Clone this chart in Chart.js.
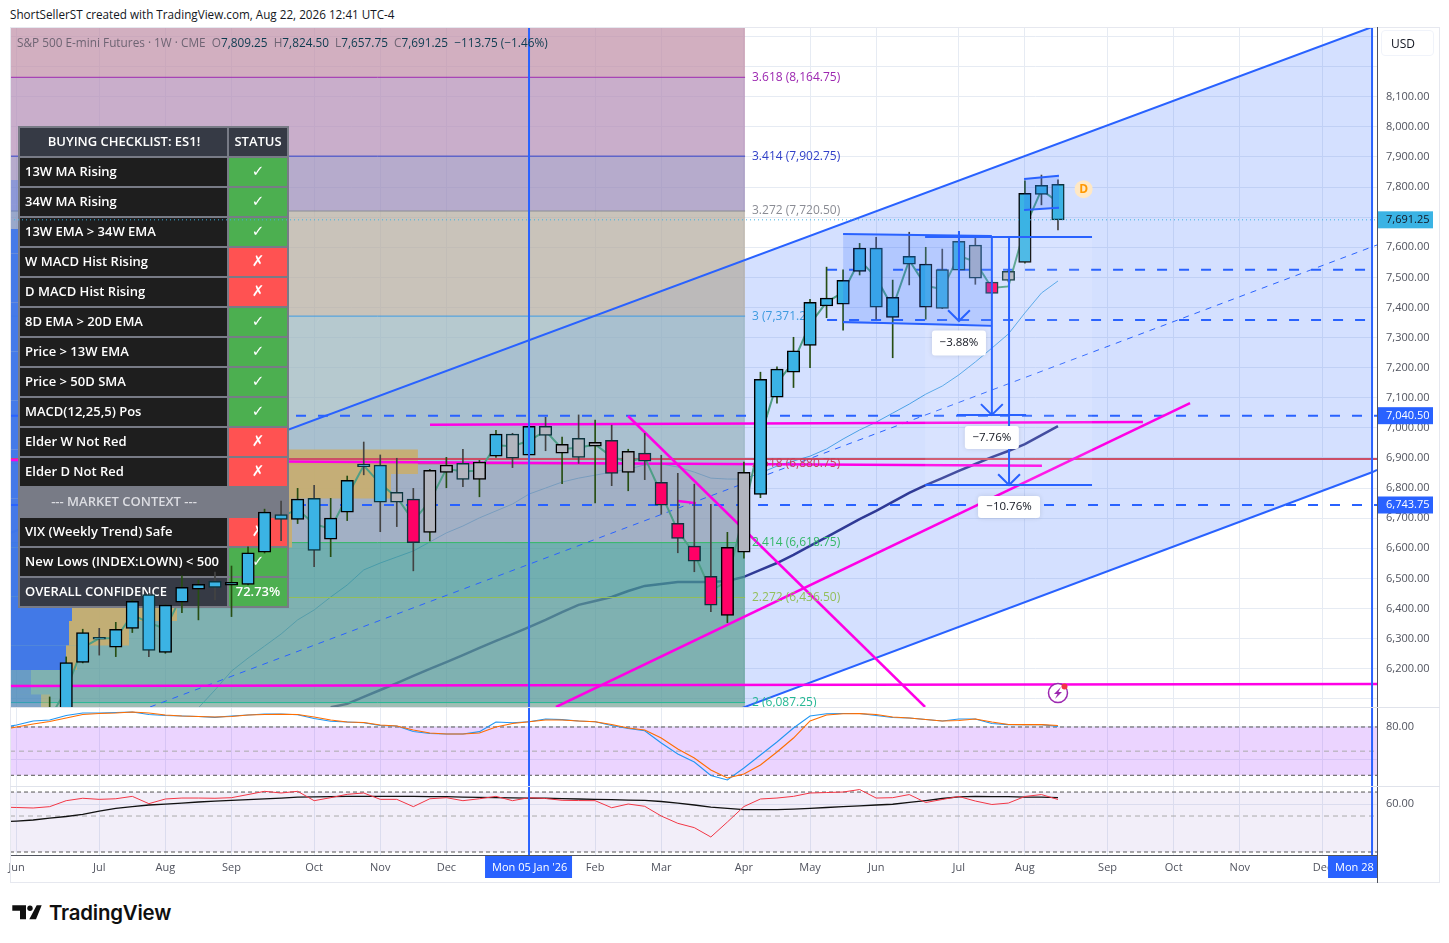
<!DOCTYPE html>
<html>
<head>
<meta charset="utf-8">
<title>ES1! weekly</title>
<script src="https://cdn.jsdelivr.net/npm/chart.js"></script>
<style>
  html, body { margin: 0; padding: 0; background: #fff; overflow: hidden; width: 1449px; height: 943px; font-family: "Open Sans", sans-serif; }
  canvas { position: absolute; left: 0; }
  .abs { position: absolute; white-space: nowrap; }
  #credit { left: 10px; top: 6px; font-size: 11.7px; color: #131722; }
  #legend { left: 17px; top: 34px; font-size: 11.8px; color: rgba(70,70,85,.72); z-index: 5; }
  #legend b { font-weight: 400; color: #0c3b4f; }
  #frame { left: 10px; top: 27px; width: 1430px; height: 856px; border: 1px solid #e6e8ef; box-sizing: border-box; }
  #axisLine { left: 1377px; top: 27px; width: 1px; height: 856px; background: #50535e; z-index: 4; }
  .sep { left: 10px; width: 1430px; height: 1px; background: #e0e3eb; z-index: 4; }
  #usd { left: 1381px; top: 30px; width: 53px; height: 26px; border: 1px solid #f0f3fa; border-radius: 4px; font-size: 12px; color: #131722; line-height: 26px; padding-left: 9px; box-sizing: border-box; z-index: 5; }
  #brand { left: 49px; top: 899px; font-family: Inter, sans-serif; font-weight: 600; font-size: 20.4px; line-height: 28px; color: #0f0f0f; letter-spacing: -0.2px; }
  #logo { left: 0; top: 890px; }
</style>
</head>
<body>
<div class="abs" id="credit">ShortSellerST created with TradingView.com, Aug 22, 2026 12:41 UTC-4</div>
<canvas id="pricePane" width="1449" height="708" style="top:0"></canvas>
<canvas id="stochPane" width="1449" height="80" style="top:707px"></canvas>
<canvas id="rsiPane" width="1449" height="100" style="top:786px"></canvas>
<div class="abs" id="frame"></div>
<div class="abs" id="axisLine"></div>
<div class="abs sep" style="top:707px"></div>
<div class="abs sep" style="top:786px"></div>
<div class="abs" id="usd">USD</div>
<div class="abs" id="legend">S&amp;P 500 E-mini Futures · 1W · CME &nbsp;O<b>7,809.25</b> &nbsp;H<b>7,824.50</b> &nbsp;L<b>7,657.75</b> &nbsp;C<b>7,691.25</b> &nbsp;<b>−113.75 (−1.46%)</b></div>
<svg class="abs" id="logo" width="48" height="40" viewBox="0 890 48 40">
  <path d="M12.3 905.3H26V919.3H20V910.7H12.3Z M36.7 905.3H41.7L36 919.3H29.3Z" fill="#0f0f0f"/>
  <circle cx="30" cy="908.3" r="2.7" fill="#0f0f0f"/>
</svg>
<div class="abs" id="brand">TradingView</div>

<script>
// Week numbers count from Mon 05 Jan '26 = 0
const X_MIN = -31.4, X_MAX = 51.3;
const FIRST_CANDLE = -29, FIRST_OSC = -32, FIRST_MA13 = -20, FIRST_MA34 = -12;
const FIB_END = 13.07;

const highs = [
  6106,6239,6331,6334,6354,6428,6450,6412,6508,6494,
  6521,6541,6605,6730,6757,6799,6809,6766,6840,6953,
  6910,6899,6799,6862,6902,6929,6892,6992,6982,7016,
  7035,6969,7043,7026,7009,6929,6982,6909,6849,6813,
  6746,6653,6886,7185,7203,7301,7427,7534,7525,7613,
  7633,7491,7650,7600,7594,7648,7633,7491,7525,7821,
  7840,7824.5];
const lows = [
  6000,6020,6219,6245,6240,6320,6240,6251,6386,6362,
  6428,6373,6478,6584,6625,6682,6539,6572,6692,6844,
  6655,6672,6525,6624,6801,6805,6771,6902,6868,6900,
  6924,6815,6882,6751,6808,6791,6828,6713,6585,6522,
  6389,6353,6567,6768,7082,7134,7200,7366,7325,7508,
  7361,7233,7475,7361,7396,7523,7477,7445,7485,7547,
  7741,7657.75];
const opens = [
  6010,6040,6221,6304,6271,6334,6446,6254,6421,6464,
  6490,6477,6480,6587,6712,6696,6766,6630,6720,6880,
  6876,6786,6763,6653,6852,6882,6829,6906,6979,6909,
  7005,6916,6965,6939,6959,6852,6916,6819,6683,6607,
  6507,6377,6587,6779,7102,7185,7274,7405,7411,7520,
  7597,7367,7570,7401,7526,7620,7607,7484,7520,7550,
  7806,7809.25];
const closes = [
  6060,6220,6320,6298,6331,6424,6261,6411,6470,6480,
  6470,6487,6585,6720,6696,6763,6593,6700,6826,6871,
  6753,6753,6619,6859,6876,6829,6886,6979,6899,7005,
  6975,6945,6902,6952,6849,6922,6889,6743,6633,6557,
  6411,6603,6852,7161,7195,7256,7417,7431,7490,7597,
  7401,7434,7544,7544,7397,7524,7497,7447,7490,7779,
  7776,7691.25];
// Elder impulse state of each bar: B bullish, G neutral, R bearish
const impulse = "BBBBBBBBBB BBBBBBBBBB BGRGGGGBGB GGGGRGRRRR RRGBBBBBBB BBBBBBGRGB BB".replace(/ /g, "");
const midLine = [
  6035,6130,6270,6301,6301,6379,6353,6332,6445,6472,
  6480,6482,6532,6653,6704,6730,6680,6665,6773,6875,
  6814,6770,6691,6756,6864,6855,6858,6942,6939,6957,
  6990,6930,6934,6945,6904,6887,6902,6781,6658,6582,
  6459,6490,6720,6970,7148,7220,7345,7418,7450,7558,
  7499,7400,7557,7472,7461,7572,7552,7465,7470,7665,
  7791,7750];
const ma13 = [
  6070,6129,6192,6235,6275,6315,6362,6395,6438,6478,
  6528,6551,6571,6591,6621,6651,6674,6701,6724,6747,
  6780,6800,6820,6833,6843,6853,6863,6877,6880,6870,
  6853,6833,6830,6830,6850,6873,6890,6906,6930,6963,
  6993,7019,7049,7079,7112,7139,7176,7219,7265,7312,
  7382,7448,7488];
const ma34 = [
  6072,6083,6106,6129,6152,6176,6199,6222,6245,6269,6292,6315,
  6338,6362,6388,6412,6425,6438,6458,6475,6481,6488,
  6488,6488,6491,6505,6528,6551,6578,6608,6637,6667,
  6697,6724,6754,6784,6810,6833,6857,6880,6903,6923,
  6946,6976,7006];

const stochK = [
  79,82.5,87.5,88.7,94.3,97.4,97.4,98,98.6,95.5,
  94.3,93.7,93,92,93.7,94.9,96.1,96.1,95.3,90.6,
  87.1,86.2,85.3,81.9,81.2,74.4,71.9,71.3,71.3,74.2,
  86.2,85.3,86.6,89.9,89.1,87.5,86.6,81.9,78.1,75.4,
  60.1,46.5,36.5,19.8,14.2,29.1,45.2,61.4,78.8,93.7,
  96.5,96.8,96.8,94.3,91.8,91.2,89.3,87.5,89.9,89.9,
  84.3,82.9,82.9,82.9,80.6];
const stochD = [
  76,80,83.7,86.8,91.2,95.5,96.8,97.4,98.6,97.4,
  94.9,93.7,93,92.4,93,94.9,95.5,95.9,95.5,92.4,
  88.7,86.2,85.6,82.5,81.2,76.3,72.5,71.3,71.3,72.5,
  80,84.3,86.6,88.7,88.7,87.5,86.6,83.1,78.8,76.3,
  66.3,52.7,41.5,26.6,16.7,21.6,32.8,49,66.3,87.5,
  94.9,96.4,96.6,95.5,92.4,91.2,89.3,87.5,88.1,89.9,
  86.2,83.1,82.9,82.9,81.9];
const rsi = [
  57.5,57.1,56.7,57.8,62.8,64.8,63.9,64.4,66.4,60.3,
  64.2,65,65,64.8,65.3,67.9,70.6,69.2,70.6,62.8,
  65.3,68.1,69.2,63.9,63.9,57.8,64.4,65.3,62.8,64.4,
  66.4,62.8,65.3,64.6,63.1,62.9,62.8,56.9,60,58.1,
  50,43.9,40.3,32.5,45,57.9,64.2,65,66.4,69.2,
  69.6,70,72.1,65,65.3,67.9,61.3,63.8,66.3,62.5,
  59.6,60.8,66.3,67.9,63.8];
const rsiAvg = [
  45,45.8,46.7,48.3,49.6,51.3,54,56.3,57.9,59.2,
  60,60.8,61.7,62.5,63,63.7,64.3,65,65.8,66,
  66.2,66.3,66.4,66.4,66.3,66.3,66.2,66.1,65.8,65.6,
  65.3,65.2,65,64.8,64.5,64.2,63.9,63.7,63.3,63.1,
  62.1,60.8,59.2,57.5,56.3,55.4,55.3,55.3,55.7,56.4,
  57.1,57.8,58.5,59.2,59.8,61.3,62.9,64.6,66,66.3,
  66.2,66.1,65.8,65.7,65.3];

const priceTicks = [6100,6200,6300,6400,6500,6600,6700,6800,6900,7000,7100,7200,7300,7400,7500,7600,7700,7800,7900,8000,8100,8200,8300];
const monthWeeks = [-31,-26,-22,-18,-13,-9,-5,0,4,8,13,17,21,26,30,35,39,43,48];
const monthLabels = ["Jun","Jul","Aug","Sep","Oct","Nov","Dec","Jan","Feb","Mar","Apr","May","Jun","Jul","Aug","Sep","Oct","Nov","Dec"];

// Fibonacci extension levels and their bands
const fibRatios = ["3.618","3.414","3.272","3","2.618","2.414","2.272","2"];
const fibPrices = [8164.75,7902.75,7720.5,7371.25,6880.75,6618.75,6436.5,6087.25];
const fibColors = ["#9c27b0","#3140c8","#8a8c94","#3d9ae0","#c8405a","#34b868","#93bf5a","#26b894"];
const fibBandColors = ["rgba(191,141,165,.7)","rgba(178,139,181,.7)","rgba(151,136,182,.7)","rgba(178,169,157,.7)","rgba(151,178,186,.7)","rgba(141,155,172,.7)","rgba(72,154,142,.7)","rgba(91,156,144,.7)","rgba(125,165,130,.6)"];

// Visible range volume rows, top to bottom
const vpLevels = [7823.5,7742,7660.7,7579.4,7498,7416.6,7335.2,7253.7,7172.4,7091,7009.5,6928.2,6846.8,6765.4,6684,6602.6,6521.2,6439.8,6358.4,6277,6195.6,6114.2,6032.8];
const vpBlueTo = [-30.5,-30.2,-30.2,-29.9,-30.2,-30.2,-30.2,-29.9,-29.6,-29.3,-29,-29,-28.7,-28.4,-28.4,-28.1,-28.1,-27.65,-27.83,-28.01,-30.13,-29.52];
const vpTanTo = [-30.2,-29.9,-27,-27,-27,-27,-27,-27,-27,-27,-27,-6.72,-8.35,-14.34,-14.34,-15,-17,-21.29,-24.2,-27.34,-30.13,-28.98];

// Hand drawn trend lines, [week, price]
const channelUpper = [[X_MIN,6650.7],[51,8331.9]];
const channelLower = [[X_MIN,5159],[51,6852.4]];
const channelLowerEnd = [[51,6852.4],[X_MAX,6860]];
const channelMid = [[-22.93,6072.6],[X_MAX,7607.6]];
const magentaLines = [
  [[X_MIN,6142.3],[X_MAX,6149]],
  [[-5.99,7010.6],[37.14,7019.5]],
  [[X_MIN,6893.3],[31.03,6874.4]],
  [[1.63,6072.6],[39.99,7082.6]],
  [[5.99,7039.4],[23.96,6072.6]],
  [[9.01,6757],[10.1,6750]]
];
const dashedLevels = [[X_MIN,7040.5],[X_MIN,6743.75],[18.03,7525.5],[18.03,7358.4]];
const redLevel = 6896.6;
const lastPrice = 7691.25;
const priceTags = [[7691.25,"7,691.25","#3bb3e4","#131722"],[7040.5,"7,040.50","#2962ff","#fff"],[6743.75,"6,743.75","#2962ff","#fff"]];

const patternBox = [[19,7644.1],[28,7637.5],[28,7339.5],[19,7351.8]];
const flagBox = [[29.95,7826.9],[32.06,7837.8],[32.06,7731.5],[29.95,7723.9]];
const rangeTop = 7634;
const rangeBottoms = [[25.89,30.07,7042.8],[23.96,34.06,6810.3]];
const arrowWeeks = [26.01,28,29.04];
const arrowTops = [7654,7634,7634];
const arrowTips = [7355,7043,6810];
const rangeNotes = [[26.01,7282,"−3.88%",54,25],[28,6968,"−7.76%",54,23],[29.04,6737,"−10.76%",62,22]];

const checkLabels = ["13W MA Rising","34W MA Rising","13W EMA > 34W EMA","W MACD Hist Rising","D MACD Hist Rising","8D EMA > 20D EMA","Price > 13W EMA","Price > 50D SMA","MACD(12,25,5) Pos","Elder W Not Red","Elder D Not Red","--- MARKET CONTEXT ---","VIX (Weekly Trend) Safe","New Lows (INDEX:LOWN) < 500","OVERALL CONFIDENCE"];
const checkStatus = ["✓","✓","✓","✗","✗","✓","✓","✓","✓","✗","✗","","✗","✓","72.73%"];

const UI_FONT = '"Open Sans", sans-serif';
const AXIS_TEXT = "#50535e";
const GRID = "#e6ebf3";
const BLUE = "#2962ff";

const line = (points, color, width, extra) => ({
  type: "line",
  data: points.map(([x, y]) => ({ x, y })),
  borderColor: color,
  borderWidth: width,
  pointRadius: 0,
  tension: 0,
  fill: false,
  ...extra,
});
const series = (values, first, color, width, extra) => line(values.map((v, i) => [first + i, v]), color, width, extra);
const box = (x0, x1, p0, p1, color) => ({
  type: "line",
  data: [{ x: x0, y: p0 }, { x: x1, y: p0 }],
  borderWidth: 0,
  borderColor: "transparent",
  pointRadius: 0,
  backgroundColor: color,
  fill: { target: { value: p1 } },
});
const vline = (week, lo, hi) => line([[week, lo], [week, hi]], BLUE, 2);

const fmt = v => v.toLocaleString("en-US", { minimumFractionDigits: 2, maximumFractionDigits: 2 });

function xAxis(showLabels) {
  return {
    type: "linear",
    min: X_MIN,
    max: X_MAX,
    offset: false,
    afterBuildTicks: s => { s.ticks = monthWeeks.map(value => ({ value })); },
    afterFit: s => { s.height = showLabels ? 31 : 0; s.paddingLeft = 0; s.paddingRight = 0; },
    grid: { color: GRID, drawTicks: false, offset: false },
    border: { display: showLabels, color: AXIS_TEXT },
    ticks: {
      display: showLabels,
      autoSkip: false,
      maxRotation: 0,
      padding: 6,
      color: AXIS_TEXT,
      font: { family: UI_FONT, size: 11 },
      callback: v => monthLabels[monthWeeks.indexOf(v)],
    },
  };
}
function yAxis(min, max, ticks, label) {
  return {
    position: "right",
    min,
    max,
    afterBuildTicks: s => { s.ticks = ticks.map(value => ({ value })); },
    afterFit: s => { s.width = 72; s.paddingTop = 0; s.paddingBottom = 0; },
    grid: { color: GRID, drawTicks: false },
    border: { color: AXIS_TEXT },
    ticks: { autoSkip: false, padding: 9, color: AXIS_TEXT, font: { family: UI_FONT, size: 11 }, callback: label },
  };
}
const baseOptions = (padding, scales) => ({
  responsive: false,
  animation: false,
  devicePixelRatio: 1,
  layout: { padding },
  scales,
  plugins: { legend: { display: false }, tooltip: { enabled: false } },
  events: [],
});

// ---- price pane ----
const PRICE_MIN = 6072.6, PRICE_MAX = 8331.9;
const priceSets = [];
priceSets.push(line(channelUpper, "transparent", 0, { fill: "+1", backgroundColor: "rgba(41,98,255,.2)" }));
priceSets.push(line(channelLower, "transparent", 0));
// the moving averages sit under the fib bands, so they fade inside them
priceSets.push(series(ma13, FIRST_MA13, "#4aa0e6", 1));
priceSets.push(series(ma34, FIRST_MA34, "#2f3a96", 2.5));
const bandEdges = [PRICE_MAX, ...fibPrices, PRICE_MIN];
fibBandColors.forEach((c, i) => priceSets.push(box(X_MIN, FIB_END, bandEdges[i], bandEdges[i + 1], c)));
fibPrices.forEach((p, i) => priceSets.push(line([[X_MIN, p], [FIB_END, p]], fibColors[i], 1)));
priceSets.push(line(channelUpper, BLUE, 2));
priceSets.push(line(channelLower, BLUE, 2));
priceSets.push(line(channelLowerEnd, BLUE, 2));
vpBlueTo.forEach((to, i) => {
  const light = i < 2 || i > 19;
  priceSets.push(box(X_MIN, to, vpLevels[i], vpLevels[i + 1], light ? "rgba(63,118,234,.35)" : "rgba(63,118,234,.95)"));
  if (vpTanTo[i] > to) priceSets.push(box(to, vpTanTo[i], vpLevels[i], vpLevels[i + 1], light ? "rgba(214,180,100,.45)" : "rgba(200,174,112,.92)"));
});
priceSets.push(line(channelMid, BLUE, 1, { borderDash: [6, 6] }));
dashedLevels.forEach(([from, p]) => priceSets.push(line([[from, p], [X_MAX, p]], BLUE, 2, { borderDash: [10, 12] })));
priceSets.push(line([[X_MIN, redLevel], [X_MAX, redLevel]], "#cc4e66", 2));
magentaLines.forEach(m => priceSets.push(line(m, "#ff00e6", 2.5)));
priceSets.push(series(midLine, FIRST_CANDLE, "#4e9e86", 2));

const wickIndex = priceSets.length;
const candleWeeks = highs.map((_, i) => FIRST_CANDLE + i);
priceSets.push({
  type: "bar",
  grouped: false,
  data: candleWeeks.map((x, i) => ({ x, y: [lows[i], highs[i]] })),
  barThickness: 1,
  backgroundColor: candleWeeks.map((_, i) => (closes[i] >= opens[i] ? "#274e13" : "#434343")),
  borderWidth: 0,
});
priceSets.push({
  type: "bar",
  grouped: false,
  data: candleWeeks.map((x, i) => ({ x, y: [opens[i], closes[i]] })),
  barThickness: 12.5,
  backgroundColor: candleWeeks.map((_, i) => ({ B: "#3bb3e4", G: "#b2b5be", R: "#ff0066" })[impulse[i]]),
  borderColor: candleWeeks.map((_, i) => (closes[i] >= opens[i] ? "#000" : "#0c343d")),
  borderWidth: 1.5,
  borderSkipped: false,
});

// drawings that sit on top of the candles
priceSets.push(box(23.96, 34.06, rangeTop, rangeBottoms[1][2], "rgba(255,255,255,.1)"));
priceSets.push({ ...line(patternBox.slice(0, 2), BLUE, 2), fill: { target: { value: 7345 } }, backgroundColor: "rgba(41,98,255,.2)" });
priceSets.push(line(patternBox.slice(2), BLUE, 2));
priceSets.push({ ...line(flagBox.slice(0, 2), BLUE, 2), fill: { target: { value: 7728 } }, backgroundColor: "rgba(41,98,255,.2)" });
priceSets.push(line(flagBox.slice(2), BLUE, 2));
priceSets.push(line([[23.96, rangeTop], [34.06, rangeTop]], BLUE, 2));
rangeBottoms.forEach(([a, b, p]) => priceSets.push(line([[a, p], [b, p]], BLUE, 2)));
arrowWeeks.forEach((w, i) => {
  priceSets.push(line([[w, arrowTops[i]], [w, arrowTips[i]]], BLUE, 2));
  priceSets.push(line([[w - 0.66, arrowTips[i] + 36], [w, arrowTips[i]], [w + 0.66, arrowTips[i] + 36]], BLUE, 2));
});
priceSets.push(vline(0, PRICE_MIN, PRICE_MAX));
priceSets.push(vline(51, PRICE_MIN, PRICE_MAX));
priceSets.push(line([[X_MIN, lastPrice], [X_MAX, lastPrice]], "#3bb3e4", 1, { borderDash: [1, 3] }));
priceSets.forEach((d, i) => { d.order = priceSets.length - i; });

function drawChecklist(ctx) {
  ctx.save();
  ctx.fillStyle = "#787b86";
  ctx.fillRect(18, 126, 271, 482);
  ctx.textBaseline = "middle";
  const text = (s, x, y, align, color, font) => {
    ctx.font = font;
    ctx.textAlign = align;
    ctx.fillStyle = color;
    ctx.fillText(s, x, y);
  };
  const tableFont = '600 13px "Open Sans", sans-serif';
  ctx.fillStyle = "#363a45";
  ctx.fillRect(20, 128, 207, 28);
  ctx.fillRect(229, 128, 58, 28);
  text("BUYING CHECKLIST: ES1!", 124, 142, "center", "#fff", tableFont);
  text("STATUS", 258, 142, "center", "#fff", tableFont);
  checkLabels.forEach((label, i) => {
    const y = 158 + 30 * i;
    const isContext = label.startsWith("---");
    const isTotal = i === checkLabels.length - 1;
    if (isContext) {
      text(label, 124, y + 14, "center", "#dcdde2", tableFont);
      return;
    }
    ctx.fillStyle = isTotal ? "#363a45" : "#1e1e1e";
    ctx.fillRect(20, y, 207, 28);
    const s = checkStatus[i];
    ctx.fillStyle = s === "✗" ? "#ff5252" : "#4caf50";
    ctx.fillRect(229, y, 58, 28);
    text(label, 25, y + 14, "left", "#fff", tableFont);
    const statusFont = isTotal ? tableFont : 'bold 15px "DejaVu Sans", sans-serif';
    text(s, 258, y + 14, "center", "#fff", statusFont);
  });
  ctx.restore();
}
function drawFibLabels(chart) {
  const { ctx, scales: { y } } = chart;
  ctx.save();
  ctx.font = '12px "Open Sans", sans-serif';
  ctx.textBaseline = "middle";
  ctx.textAlign = "left";
  fibPrices.forEach((p, i) => {
    ctx.fillStyle = fibColors[i];
    ctx.fillText(fibRatios[i] + " (" + fmt(p) + ")", 752, y.getPixelForValue(p));
  });
  ctx.restore();
}
const pricePlugin = {
  id: "priceExtras",
  beforeDatasetDraw(chart, args) {
    if (args.index === wickIndex) {
      drawFibLabels(chart);
      drawChecklist(chart.ctx);
    }
  },
  afterDraw(chart) {
    const { ctx, scales: { x, y } } = chart;
    ctx.save();
    ctx.textBaseline = "middle";
    // range notes
    ctx.font = '11.5px "Open Sans", sans-serif';
    ctx.textAlign = "center";
    rangeNotes.forEach(([w, p, s, bw, bh]) => {
      const cx = x.getPixelForValue(w), cy = y.getPixelForValue(p);
      ctx.save();
      ctx.shadowColor = "rgba(0,0,0,.12)";
      ctx.shadowBlur = 5;
      ctx.fillStyle = "#fff";
      ctx.beginPath();
      ctx.roundRect(cx - bw / 2, cy - bh / 2, bw, bh, 3);
      ctx.fill();
      ctx.restore();
      ctx.fillStyle = "#131722";
      ctx.fillText(s, cx, cy);
    });
    // dividend marker
    const dx = x.getPixelForValue(33.55), dy = y.getPixelForValue(7793);
    ctx.fillStyle = "#ffe8c4";
    ctx.beginPath(); ctx.arc(dx, dy, 9, 0, Math.PI * 2); ctx.fill();
    ctx.fillStyle = "#ff9800";
    ctx.font = 'bold 12px "Open Sans", sans-serif';
    ctx.fillText("D", dx, dy);
    // alert marker
    const ax = x.getPixelForValue(32), ay = y.getPixelForValue(6119);
    ctx.fillStyle = "#fff";
    ctx.strokeStyle = "#9c27b0";
    ctx.lineWidth = 1.5;
    ctx.beginPath(); ctx.arc(ax, ay, 9.5, 0, Math.PI * 2); ctx.fill(); ctx.stroke();
    ctx.fillStyle = "#9c27b0";
    ctx.beginPath();
    ctx.moveTo(ax + 3, ay - 6); ctx.lineTo(ax - 4, ay + 1); ctx.lineTo(ax - 0.5, ay + 1);
    ctx.lineTo(ax - 3, ay + 6); ctx.lineTo(ax + 4, ay - 1); ctx.lineTo(ax + 0.5, ay - 1);
    ctx.closePath(); ctx.fill();
    ctx.fillStyle = "#f23645";
    ctx.beginPath(); ctx.arc(ax + 6.5, ay - 6.5, 3, 0, Math.PI * 2); ctx.fill();
    // price tags on the axis
    ctx.font = '11px "Open Sans", sans-serif';
    ctx.textAlign = "left";
    priceTags.forEach(([p, s, bg, fg]) => {
      const py = y.getPixelForValue(p);
      ctx.fillStyle = bg;
      ctx.fillRect(1378, py - 8.5, 55, 17);
      ctx.fillStyle = fg;
      ctx.fillText(s, 1386, py);
    });
    ctx.restore();
  },
};
new Chart(document.getElementById("pricePane"), {
  type: "line",
  data: { datasets: priceSets },
  options: baseOptions({ left: 10, right: 0, top: 27, bottom: 1 }, {
    x: xAxis(false),
    y: yAxis(PRICE_MIN, PRICE_MAX, priceTicks, v => (v > 8100 || v < 6200 ? "" : fmt(v))),
  }),
  plugins: [pricePlugin],
});

// ---- stochastic pane ----
const STOCH_MIN = 6.7, STOCH_MAX = 103.6;
const stochSets = [
  box(X_MIN, X_MAX, 80, 20, "rgba(156,39,255,.2)"),
  line([[X_MIN, 80], [X_MAX, 80]], "#555", 1, { borderDash: [4, 3] }),
  line([[X_MIN, 50], [X_MAX, 50]], "#aaa", 1, { borderDash: [5, 4] }),
  line([[X_MIN, 20], [X_MAX, 20]], "#555", 1, { borderDash: [4, 3] }),
  series(stochK, FIRST_OSC, "#2196f3", 1.1),
  series(stochD, FIRST_OSC, "#ff6d00", 1.1),
  vline(0, STOCH_MIN, STOCH_MAX),
  vline(51, STOCH_MIN, STOCH_MAX),
];
stochSets.forEach((d, i) => { d.order = stochSets.length - i; });
new Chart(document.getElementById("stochPane"), {
  type: "line",
  data: { datasets: stochSets },
  options: baseOptions({ left: 10, right: 0, top: 1, bottom: 1 }, {
    x: xAxis(false),
    y: yAxis(STOCH_MIN, STOCH_MAX, [40, 80], v => (v === 80 ? "80.00" : "")),
  }),
});

// ---- RSI pane ----
const RSI_MIN = 17.5, RSI_MAX = 74.2;
const rsiSets = [
  box(X_MIN, X_MAX, 70, 20, "rgba(126,87,194,.1)"),
  line([[X_MIN, 70], [X_MAX, 70]], "#555", 1, { borderDash: [4, 3] }),
  line([[X_MIN, 50], [X_MAX, 50]], "#aaa", 1, { borderDash: [5, 4] }),
  line([[X_MIN, 20], [X_MAX, 20]], "#555", 1, { borderDash: [4, 3] }),
  series(rsiAvg, FIRST_OSC, "#111", 1.3),
  series(rsi, FIRST_OSC, "#f23645", 1),
  vline(0, RSI_MIN, RSI_MAX),
  vline(51, RSI_MIN, RSI_MAX),
];
rsiSets.forEach((d, i) => { d.order = rsiSets.length - i; });
const timePlugin = {
  id: "timeTags",
  afterDraw(chart) {
    const { ctx, chartArea, scales: { x } } = chart;
    ctx.save();
    ctx.beginPath();
    ctx.rect(0, 0, chartArea.right + 1, chart.height);
    ctx.clip();
    ctx.font = '11px "Open Sans", sans-serif';
    ctx.textBaseline = "middle";
    ctx.textAlign = "left";
    [[x.getPixelForValue(0) - 44, "Mon 05 Jan '26"], [x.getPixelForValue(51) - 44, "Mon 28 Dec '26"]].forEach(([left, s]) => {
      ctx.fillStyle = BLUE;
      ctx.fillRect(left, chartArea.bottom + 1, 87, 22);
      ctx.fillStyle = "#fff";
      ctx.fillText(s, left + 7, chartArea.bottom + 12.5);
    });
    ctx.restore();
  },
};
new Chart(document.getElementById("rsiPane"), {
  type: "line",
  data: { datasets: rsiSets },
  options: baseOptions({ left: 10, right: 0, top: 1, bottom: 0 }, {
    x: xAxis(true),
    y: yAxis(RSI_MIN, RSI_MAX, [60], v => "60.00"),
  }),
  plugins: [timePlugin],
});
</script>
</body>
</html>
